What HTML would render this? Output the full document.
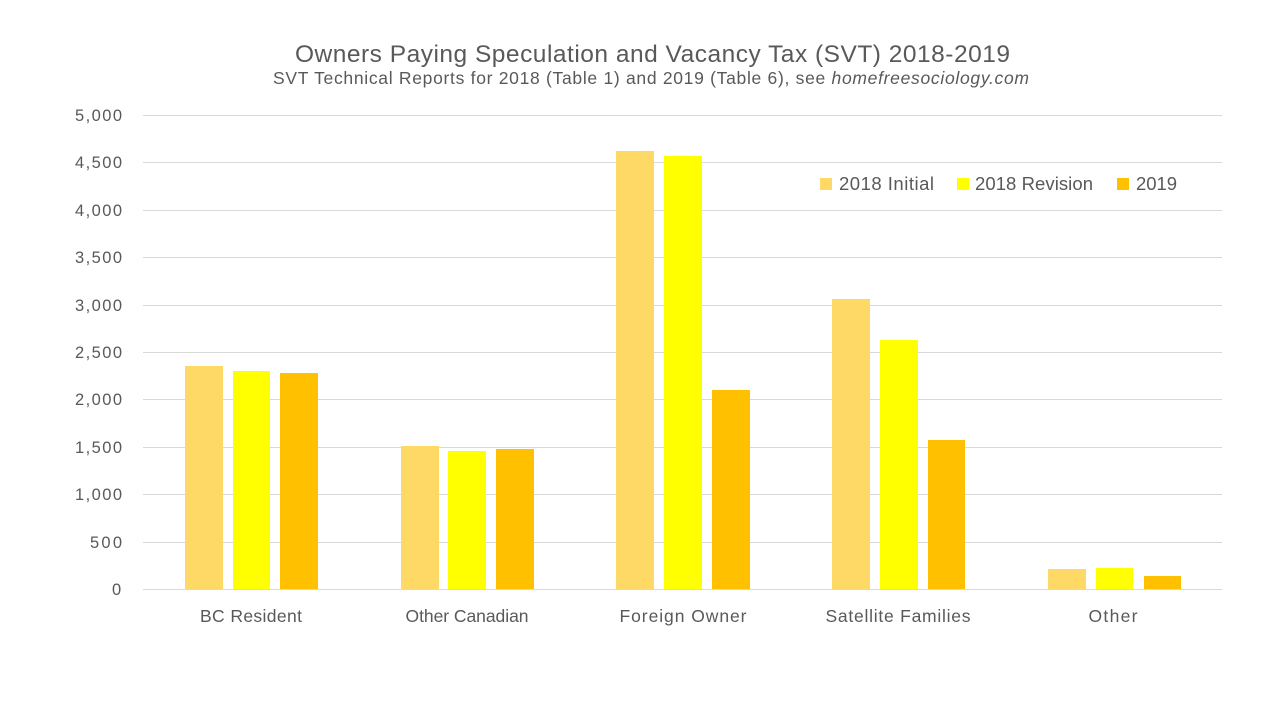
<!DOCTYPE html>
<html>
<head>
<meta charset="utf-8">
<style>
  html, body { margin: 0; padding: 0; background: #ffffff; }
  svg { display: block; }
  text { font-family: "Liberation Sans", "DejaVu Sans", sans-serif; fill: #595959; }
</style>
</head>
<body>
<svg width="1280" height="720" viewBox="0 0 1280 720" xmlns="http://www.w3.org/2000/svg">
  <rect x="0" y="0" width="1280" height="720" fill="#ffffff"/>

  <!-- Title -->
  <text x="295" y="62" font-size="24.5" textLength="715" lengthAdjust="spacing">Owners Paying Speculation and Vacancy Tax (SVT) 2018-2019</text>
  <text x="273" y="84" font-size="17.5" textLength="756" lengthAdjust="spacing">SVT Technical Reports for 2018 (Table 1) and 2019 (Table 6), see <tspan font-style="italic">homefreesociology.com</tspan></text>

  <!-- Gridlines -->
  <g fill="#d9d9d9">
    <rect x="143" y="115" width="1079" height="1"/>
    <rect x="143" y="162" width="1079" height="1"/>
    <rect x="143" y="210" width="1079" height="1"/>
    <rect x="143" y="257" width="1079" height="1"/>
    <rect x="143" y="305" width="1079" height="1"/>
    <rect x="143" y="352" width="1079" height="1"/>
    <rect x="143" y="399" width="1079" height="1"/>
    <rect x="143" y="447" width="1079" height="1"/>
    <rect x="143" y="494" width="1079" height="1"/>
    <rect x="143" y="542" width="1079" height="1"/>
    <rect x="143" y="589" width="1079" height="1"/>
  </g>

  <!-- Y labels -->
  <g font-size="16.5">
    <text x="75" y="121" textLength="47" lengthAdjust="spacing">5,000</text>
    <text x="75" y="168" textLength="47" lengthAdjust="spacing">4,500</text>
    <text x="75" y="216" textLength="47" lengthAdjust="spacing">4,000</text>
    <text x="75" y="263" textLength="47" lengthAdjust="spacing">3,500</text>
    <text x="75" y="311" textLength="47" lengthAdjust="spacing">3,000</text>
    <text x="75" y="358" textLength="47" lengthAdjust="spacing">2,500</text>
    <text x="75" y="405" textLength="47" lengthAdjust="spacing">2,000</text>
    <text x="75" y="453" textLength="47" lengthAdjust="spacing">1,500</text>
    <text x="75" y="500" textLength="47" lengthAdjust="spacing">1,000</text>
    <text x="90" y="548" textLength="32" lengthAdjust="spacing">500</text>
    <text x="112" y="595" textLength="10" lengthAdjust="spacing">0</text>
  </g>

  <!-- Bars -->
  <!-- BC Resident -->
  <rect x="185" y="366" width="38" height="223" fill="#FFD966"/>
  <rect x="233" y="371" width="37" height="218" fill="#FFFF00"/>
  <rect x="280" y="373" width="38" height="216" fill="#FFC000"/>
  <!-- Other Canadian -->
  <rect x="401" y="446" width="38" height="143" fill="#FFD966"/>
  <rect x="448" y="451" width="38" height="138" fill="#FFFF00"/>
  <rect x="496" y="449" width="38" height="140" fill="#FFC000"/>
  <!-- Foreign Owner -->
  <rect x="616" y="151" width="38" height="438" fill="#FFD966"/>
  <rect x="664" y="156" width="38" height="433" fill="#FFFF00"/>
  <rect x="712" y="390" width="38" height="199" fill="#FFC000"/>
  <!-- Satellite Families -->
  <rect x="832" y="299" width="38" height="290" fill="#FFD966"/>
  <rect x="880" y="340" width="38" height="249" fill="#FFFF00"/>
  <rect x="928" y="440" width="37" height="149" fill="#FFC000"/>
  <!-- Other -->
  <rect x="1048" y="569" width="38" height="20" fill="#FFD966"/>
  <rect x="1096" y="568" width="37" height="21" fill="#FFFF00"/>
  <rect x="1144" y="576" width="37" height="13" fill="#FFC000"/>

  <!-- Category labels -->
  <g font-size="17.5" text-anchor="middle">
    <text x="251" y="622" textLength="102" lengthAdjust="spacing">BC Resident</text>
    <text x="467" y="622" textLength="123" lengthAdjust="spacing">Other Canadian</text>
    <text x="683" y="622" textLength="127" lengthAdjust="spacing">Foreign Owner</text>
    <text x="898" y="622" textLength="145" lengthAdjust="spacing">Satellite Families</text>
    <text x="1113" y="622" textLength="49" lengthAdjust="spacing">Other</text>
  </g>

  <!-- Legend -->
  <rect x="820" y="178" width="12" height="12" fill="#FFD966"/>
  <text x="839" y="190" font-size="18.5" textLength="95" lengthAdjust="spacing">2018 Initial</text>
  <rect x="957" y="178" width="12" height="12" fill="#FFFF00"/>
  <text x="975" y="190" font-size="18.5" textLength="118" lengthAdjust="spacing">2018 Revision</text>
  <rect x="1117" y="178" width="12" height="12" fill="#FFC000"/>
  <text x="1136" y="190" font-size="18.5" textLength="41" lengthAdjust="spacing">2019</text>
</svg>
</body>
</html>
